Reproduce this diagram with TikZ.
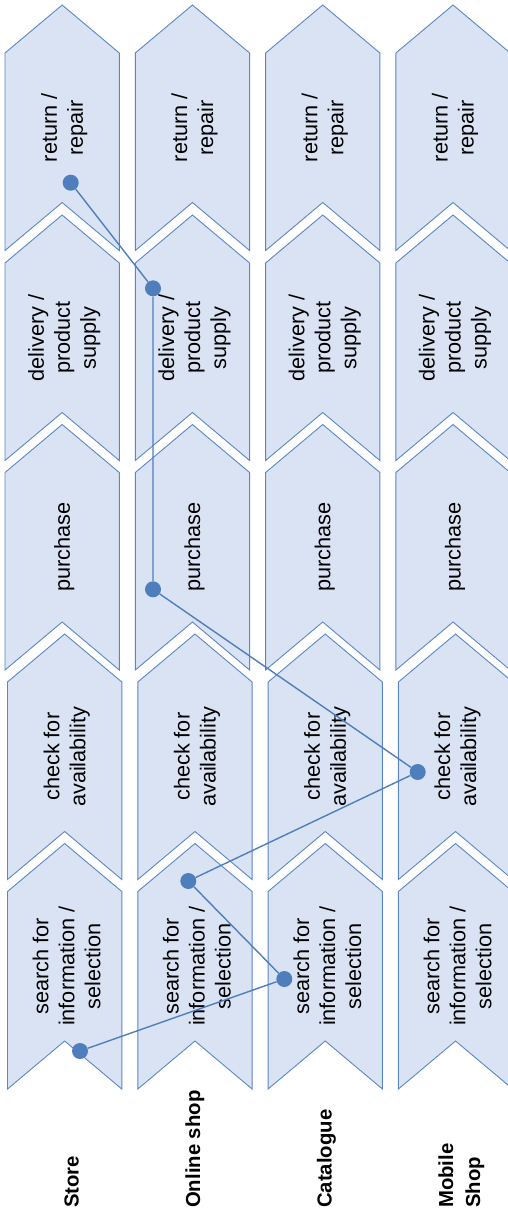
\documentclass[tikz,border=0pt]{standalone}
\usepackage{fontspec}
\setmainfont{Liberation Sans}
\usepackage{xcolor}

\definecolor{chevfill}{HTML}{DAE3F3}
\definecolor{chevline}{HTML}{5B87C6}
\definecolor{pathblue}{HTML}{4F7EBD}

\begin{document}
\begin{tikzpicture}[x=1pt, y=-1pt,
  chev/.pic={\draw[fill=chevfill, draw=chevline, line width=0.9pt]
    (0,48) -- (57.15,0) -- (114.3,48) -- (114.3,245.5)
    -- (57.15,197.5) -- (0,245.5) -- cycle;},
  stage/.style={rotate=90, align=center, inner sep=0pt,
                font=\fontsize{21.7}{26}\selectfont},
  channel/.style={rotate=90, anchor=west, align=left, inner sep=0pt,
                  font=\bfseries\fontsize{20.3}{27}\selectfont},
  dot/.style={circle, fill=pathblue, inner sep=0pt, minimum size=16pt},
  journey/.style={draw=pathblue, line width=1.4pt}
]
\useasboundingbox (0,0) rectangle (507,1219);

% Stages, one row per step, columns = channels
\foreach \c in {0,1,2,3} {
  \pic at ({5+130.3*\c},5) {chev};
  \node[stage] (ret\c) at ({64.15+130.3*\c},127.75) {return /\\repair};
  \pic at ({5+130.3*\c},215) {chev};
  \node[stage] (del\c) at ({64.15+130.3*\c},337.75) {delivery /\\product\\supply};
  \pic at ({5+130.3*\c},424.5) {chev};
  \node[stage] (pur\c) at ({64.15+130.3*\c},547.25) {purchase};
  \pic at ({7.5+130.3*\c},634) {chev};
  \node[stage] (chk\c) at ({66.65+130.3*\c},756.75) {check for\\availability};
  \pic at ({7.5+130.3*\c},843.5) {chev};
  \node[stage] (src\c) at ({66.65+130.3*\c},966.25) {search for\\information /\\selection};
}

% Channels
\node[channel] (store)   at (71.7,1208)  {Store};
\node[channel] (online)  at (194.8,1208) {Online shop};
\node[channel] (catalog) at (326.5,1208) {Catalogue};
\node[channel] (mobile)  at (461.4,1208) {Mobile\\Shop};

% Customer journey
\node[dot] (st-search) at (80,1051)    {};
\node[dot] (ca-search) at (284.3,979)  {};
\node[dot] (on-search) at (188.3,881)  {};
\node[dot] (mo-check)  at (417.7,772)  {};
\node[dot] (on-purch)  at (153,589.3)  {};
\node[dot] (on-deliv)  at (153,288.3)  {};
\node[dot] (st-return) at (70.7,182.7) {};

\draw[journey] (st-search) -- (ca-search) -- (on-search) -- (mo-check)
  -- (on-purch) -- (on-deliv) -- (st-return);
\end{tikzpicture}
\end{document}
